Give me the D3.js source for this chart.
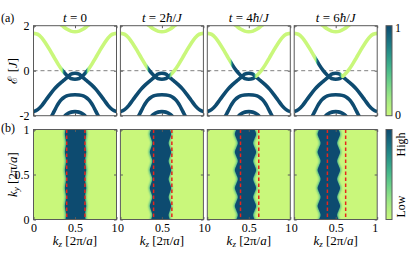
<!DOCTYPE html>
<html>
<head>
<meta charset="utf-8">
<script src="https://cdn.jsdelivr.net/npm/d3@7"></script>
<style>
  body { margin: 0; background: #fff; }
</style>
</head>
<body>
<svg id="chart"></svg>
<script>
const svgWidth = 415;
const svgHeight = 260;
const serif = '"Liberation Serif", "Times New Roman", serif';

// times of the four snapshots, in units of hbar/J
const times = [0, 2, 4, 6];

// colour map for the occupation, 0 (empty) -> 1 (filled)
const cmapStops = ["#c9f77b", "#a2ea84", "#62ce8b", "#33a88b", "#1b7886", "#0e4b70"];

// panel (a): band energies E [J] versus kz [2pi/a]
const topKz = [0.28, 0.30, 0.35, 0.40, 0.45, 0.50, 0.55, 0.60, 0.65, 0.70, 0.72];
const topE  = [2.22, 2.14, 1.99, 1.85, 1.76, 1.73, 1.76, 1.85, 1.99, 2.14, 2.22];

const surfKz = [0, 0.05, 0.10, 0.15, 0.20, 0.25, 0.30, 0.35, 0.40, 0.415, 0.45, 0.50,
                0.55, 0.585, 0.60, 0.65, 0.70, 0.75, 0.80, 0.85, 0.90, 0.95, 1];
const surfE  = [1.66, 1.62, 1.46, 1.20, 0.90, 0.58, 0.27, 0.00, -0.20, -0.25, -0.15, -0.11,
                -0.15, -0.25, -0.20, 0.00, 0.27, 0.58, 0.90, 1.20, 1.46, 1.62, 1.66];

const low1Kz = surfKz;
const low1E  = [-1.82, -1.73, -1.55, -1.30, -1.05, -0.82, -0.63, -0.47, -0.32, -0.27, -0.35, -0.38,
                -0.35, -0.27, -0.32, -0.47, -0.63, -0.82, -1.05, -1.30, -1.55, -1.73, -1.82];

const low2Kz = [0.20, 0.22, 0.25, 0.28, 0.31, 0.34, 0.37, 0.40, 0.45, 0.50,
                0.55, 0.60, 0.63, 0.66, 0.69, 0.72, 0.75, 0.78, 0.80];
const low2E  = [-2.15, -2.00, -1.80, -1.58, -1.40, -1.27, -1.18, -1.12, -1.08, -1.07,
                -1.08, -1.12, -1.18, -1.27, -1.40, -1.58, -1.80, -2.00, -2.15];

const low3Kz = [0.35, 0.38, 0.41, 0.44, 0.47, 0.50, 0.53, 0.56, 0.59, 0.62, 0.65];
const low3E  = [-2.15, -2.00, -1.91, -1.86, -1.83, -1.82, -1.83, -1.86, -1.91, -2.00, -2.15];

// occupied kz window of the surface band at each time
const occLo = [0.355, 0.330, 0.290, 0.268];
const occHi = [0.645, 0.600, 0.575, 0.562];

// panel (b): edges of the occupied strip, kz at each ky
const kyGrid = [0, 0.05, 0.10, 0.15, 0.20, 0.25, 0.30, 0.35, 0.40, 0.45, 0.50,
                0.55, 0.60, 0.65, 0.70, 0.75, 0.80, 0.85, 0.90, 0.95, 1];
const edgeLeft = [
  [0.386, 0.392, 0.386, 0.378, 0.386, 0.392, 0.386, 0.378, 0.386, 0.392, 0.386,
   0.378, 0.386, 0.392, 0.386, 0.378, 0.386, 0.392, 0.386, 0.378, 0.386],
  [0.370, 0.385, 0.370, 0.355, 0.370, 0.385, 0.370, 0.355, 0.370, 0.385, 0.370,
   0.355, 0.370, 0.385, 0.370, 0.355, 0.370, 0.385, 0.370, 0.355, 0.370],
  [0.350, 0.368, 0.350, 0.332, 0.350, 0.368, 0.350, 0.332, 0.350, 0.368, 0.350,
   0.332, 0.350, 0.368, 0.350, 0.332, 0.350, 0.368, 0.350, 0.332, 0.350],
  [0.300, 0.318, 0.300, 0.282, 0.300, 0.318, 0.300, 0.282, 0.300, 0.318, 0.300,
   0.282, 0.300, 0.318, 0.300, 0.282, 0.300, 0.318, 0.300, 0.282, 0.300]
];
const edgeRight = [
  [0.627, 0.621, 0.627, 0.635, 0.627, 0.621, 0.627, 0.635, 0.627, 0.621, 0.627,
   0.635, 0.627, 0.621, 0.627, 0.635, 0.627, 0.621, 0.627, 0.635, 0.627],
  [0.596, 0.581, 0.596, 0.611, 0.596, 0.581, 0.596, 0.611, 0.596, 0.581, 0.596,
   0.611, 0.596, 0.581, 0.596, 0.611, 0.596, 0.581, 0.596, 0.611, 0.596],
  [0.570, 0.552, 0.570, 0.588, 0.570, 0.552, 0.570, 0.588, 0.570, 0.552, 0.570,
   0.588, 0.570, 0.552, 0.570, 0.588, 0.570, 0.552, 0.570, 0.588, 0.570],
  [0.535, 0.517, 0.535, 0.553, 0.535, 0.517, 0.535, 0.553, 0.535, 0.517, 0.535,
   0.553, 0.535, 0.517, 0.535, 0.553, 0.535, 0.517, 0.535, 0.553, 0.535]
];

// Fermi points at t = 0 (red dashed lines)
const fermiKz = [0.40, 0.62];

// tick values
const kzTicks = [0, 0.5, 1];
const eTicks = [-2, 0, 2];
const kyTicks = [0, 0.5, 1];

// layout
const pw = 83, ph = 90, pitch = 86.9;
const left0 = 33.5, topA = 25.7, topB = 129.5;
const frameColor = "#5a5a5a";

const svg = d3.select("#chart")
  .attr("width", svgWidth)
  .attr("height", svgHeight)
  .attr("font-family", serif);

const x = d3.scaleLinear().domain([0, 1]).range([0, pw]);
const yE = d3.scaleLinear().domain([-2, 2]).range([ph, 0]);
const yK = d3.scaleLinear().domain([0, 1]).range([ph, 0]);
const cmap = d3.scaleSequential(d3.interpolateRgbBasis(cmapStops)).domain([0, 1]);

const defs = svg.append("defs");
defs.append("clipPath").attr("id", "clipPanel")
  .append("rect").attr("width", pw).attr("height", ph);
defs.append("filter").attr("id", "blurTeal")
  .append("feGaussianBlur").attr("stdDeviation", 0.9);
defs.append("filter").attr("id", "blurDark")
  .append("feGaussianBlur").attr("stdDeviation", 0.5);

const bandLine = d3.line()
  .x(d => x(d[0]))
  .y(d => yE(d[1]))
  .curve(d3.curveMonotoneX);

const sig = v => 1 / (1 + Math.exp(-v));

// inward ticks on all four sides
function frameAxes(g, yScale, yTicks, showY, showX) {
  const styleAxis = a => a
    .attr("font-family", serif)
    .attr("font-size", 12)
    .call(s => s.select(".domain").remove())
    .call(s => s.selectAll(".tick line").attr("stroke", frameColor))
    .call(s => s.selectAll(".tick text").attr("fill", "#000"));

  g.append("g").attr("transform", `translate(0,${ph})`)
    .call(d3.axisBottom(x).tickValues(kzTicks).tickSizeInner(-2.5).tickSizeOuter(0).tickPadding(3.5)
      .tickFormat(showX ? (d => d === 0.5 ? "0.5" : d) : ""))
    .call(styleAxis)
    .call(s => s.selectAll(".tick text")
      .attr("text-anchor", d => d === 1 ? "end" : "middle")
      .attr("dx", d => d === 1 ? 0.5 : 0));
  g.append("g")
    .call(d3.axisTop(x).tickValues(kzTicks).tickSizeInner(-2.5).tickSizeOuter(0).tickFormat(""))
    .call(styleAxis);
  g.append("g")
    .call(d3.axisLeft(yScale).tickValues(yTicks).tickSizeInner(-2.5).tickSizeOuter(0).tickPadding(4)
      .tickFormat(showY ? (d => d < 0 ? "-" + (-d) : d) : ""))
    .call(styleAxis);
  g.append("g").attr("transform", `translate(${pw},0)`)
    .call(d3.axisRight(yScale).tickValues(yTicks).tickSizeInner(-2.5).tickSizeOuter(0).tickFormat(""))
    .call(styleAxis);

  g.append("rect")
    .attr("width", pw).attr("height", ph)
    .attr("fill", "none")
    .attr("stroke", frameColor)
    .attr("stroke-width", 1);
}

// ---------- panel (a): bands ----------
times.forEach((t, i) => {
  const g = svg.append("g")
    .attr("transform", `translate(${left0 + i * pitch},${topA})`);

  // gradient colouring the surface band by occupation
  const grad = defs.append("linearGradient")
    .attr("id", "occ" + i)
    .attr("gradientUnits", "userSpaceOnUse")
    .attr("x1", 0).attr("x2", pw).attr("y1", 0).attr("y2", 0);
  d3.range(0, 1.0001, 0.005).forEach(k => {
    const occ = sig((k - occLo[i]) / 0.006) * sig((occHi[i] - k) / 0.006);
    grad.append("stop").attr("offset", k).attr("stop-color", cmap(occ));
  });

  const inner = g.append("g").attr("clip-path", "url(#clipPanel)");

  inner.append("line")
    .attr("x1", 0).attr("x2", pw)
    .attr("y1", yE(0)).attr("y2", yE(0))
    .attr("stroke", "#808080")
    .attr("stroke-width", 1)
    .attr("stroke-dasharray", "4,3");

  const bands = [
    { kz: topKz, e: topE, color: cmap(0) },
    { kz: low3Kz, e: low3E, color: cmap(1) },
    { kz: low2Kz, e: low2E, color: cmap(1) },
    { kz: low1Kz, e: low1E, color: cmap(1) },
    { kz: surfKz, e: surfE, color: `url(#occ${i})` }
  ];

  inner.selectAll("path.band")
    .data(bands)
    .enter()
    .append("path")
    .classed("band", true)
    .attr("d", b => bandLine(d3.zip(b.kz, b.e)))
    .attr("fill", "none")
    .attr("stroke", b => b.color)
    .attr("stroke-width", 3.6);

  frameAxes(g, yE, eTicks, i === 0, false);

  // title
  const title = g.append("text")
    .attr("x", pw / 2)
    .attr("y", -4)
    .attr("text-anchor", "middle")
    .attr("font-size", 13);
  title.append("tspan").attr("font-style", "italic").text("t");
  if (t === 0) {
    title.append("tspan").text(" = 0");
  } else {
    title.append("tspan").text(` = ${t}`);
    title.append("tspan").attr("font-style", "italic").text("ħ");
    title.append("tspan").text("/");
    title.append("tspan").attr("font-style", "italic").text("J");
  }
});

// ---------- panel (b): occupation maps ----------
const stripDark = d3.area()
  .y(d => yK(d[0]))
  .x0(d => x(d[1]))
  .x1(d => x(d[2]))
  .curve(d3.curveCatmullRom);
const stripTeal = d3.area()
  .y(d => yK(d[0]))
  .x0(d => x(d[1]) - 1)
  .x1(d => x(d[2]) + 1)
  .curve(d3.curveCatmullRom);

times.forEach((t, i) => {
  const g = svg.append("g")
    .attr("transform", `translate(${left0 + i * pitch},${topB})`);

  const rows = kyGrid.map((k, j) => [k, edgeLeft[i][j], edgeRight[i][j]]);
  // pad periodically in ky so the blur does not fade the top and bottom
  rows.unshift([-0.05, edgeLeft[i][19], edgeRight[i][19]]);
  rows.push([1.05, edgeLeft[i][1], edgeRight[i][1]]);

  const inner = g.append("g").attr("clip-path", "url(#clipPanel)");
  inner.append("rect")
    .attr("width", pw).attr("height", ph)
    .attr("fill", cmap(0));
  inner.append("path")
    .attr("d", stripTeal(rows))
    .attr("fill", cmap(0.55))
    .attr("filter", "url(#blurTeal)");
  inner.append("path")
    .attr("d", stripDark(rows))
    .attr("fill", cmap(1))
    .attr("filter", "url(#blurDark)");

  inner.selectAll("line.fermi")
    .data(fermiKz)
    .enter()
    .append("line")
    .classed("fermi", true)
    .attr("x1", d => x(d)).attr("x2", d => x(d))
    .attr("y1", 0).attr("y2", ph)
    .attr("stroke", "#e8261c")
    .attr("stroke-width", 1.5)
    .attr("stroke-dasharray", "3.5,2.5");

  frameAxes(g, yK, kyTicks, i === 0, true);

  // x axis title
  const xt = g.append("text")
    .attr("x", pw / 2)
    .attr("y", ph + 25.5)
    .attr("text-anchor", "middle")
    .attr("font-size", 13);
  xt.append("tspan").attr("font-style", "italic").text("k");
  xt.append("tspan").attr("font-style", "italic").attr("font-size", 9).attr("dy", 2).text("z");
  xt.append("tspan").attr("dy", -2).text(" [2π/");
  xt.append("tspan").attr("font-style", "italic").text("a");
  xt.append("tspan").text("]");
});

// y axis titles
const yTitleA = svg.append("text")
  .attr("transform", `translate(17,${topA + ph / 2}) rotate(-90)`)
  .attr("text-anchor", "middle")
  .attr("font-size", 13);
yTitleA.append("tspan").text("ℰ");
yTitleA.append("tspan").text(" [");
yTitleA.append("tspan").attr("font-style", "italic").text("J");
yTitleA.append("tspan").text("]");

const yTitleB = svg.append("text")
  .attr("transform", `translate(17,${topB + ph / 2}) rotate(-90)`)
  .attr("text-anchor", "middle")
  .attr("font-size", 13);
yTitleB.append("tspan").attr("font-style", "italic").text("k");
yTitleB.append("tspan").attr("font-style", "italic").attr("font-size", 9).attr("dy", 2).text("y");
yTitleB.append("tspan").attr("dy", -2).text(" [2π/");
yTitleB.append("tspan").attr("font-style", "italic").text("a");
yTitleB.append("tspan").text("]");

// panel letters
svg.append("text").attr("x", 1).attr("y", 21.5).attr("font-size", 12).text("(a)");
svg.append("text").attr("x", 1).attr("y", 132).attr("font-size", 12).text("(b)");

// ---------- colour bars ----------
const cbGrad = defs.append("linearGradient")
  .attr("id", "cbar")
  .attr("x1", 0).attr("x2", 0).attr("y1", 1).attr("y2", 0);
d3.range(0, 1.0001, 0.05).forEach(v => {
  cbGrad.append("stop").attr("offset", v).attr("stop-color", cmap(v));
});

[topA, topB].forEach(top => {
  svg.append("rect")
    .attr("x", 386).attr("y", top)
    .attr("width", 6).attr("height", ph)
    .attr("fill", "url(#cbar)")
    .attr("stroke", frameColor)
    .attr("stroke-width", 1);
});

svg.append("text").attr("x", 395).attr("y", topA + 6).attr("font-size", 12).text("1");
svg.append("text").attr("x", 395).attr("y", topA + ph + 3).attr("font-size", 12).text("0");
svg.append("text")
  .attr("transform", `translate(405,${topB + 15}) rotate(-90)`)
  .attr("text-anchor", "middle").attr("font-size", 12).text("High");
svg.append("text")
  .attr("transform", `translate(405,${topB + ph - 13}) rotate(-90)`)
  .attr("text-anchor", "middle").attr("font-size", 12).text("Low");
</script>
</body>
</html>
